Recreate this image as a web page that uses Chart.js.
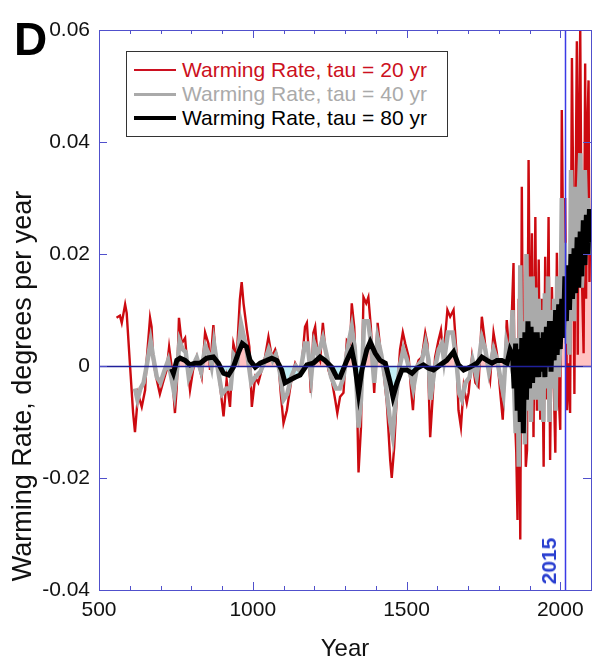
<!DOCTYPE html>
<html>
<head>
<meta charset="utf-8">
<script src="https://cdn.jsdelivr.net/npm/chart.js@4/dist/chart.umd.min.js"></script>
<style>
  body { margin: 0; background: #fff; }
  #wrap { position: relative; width: 593px; height: 662px; font-family: "Liberation Sans", Arial, sans-serif; }
  #chart { position: absolute; left: 0; top: 0; }
  .lbl { position: absolute; white-space: nowrap; }
  #panel { left: 14px; top: 16px; font-size: 46px; font-weight: bold; line-height: 46px; color: #000; }
  #ytitle { left: 22px; top: 386px; font-size: 27px; line-height: 30px; color: #111; transform: translate(-50%, -50%) rotate(-90deg); }
  #xtitle { left: 345px; top: 648px; font-size: 24px; line-height: 28px; color: #111; transform: translate(-50%, -50%); }
  #mark { left: 549px; top: 561px; font-size: 21px; font-weight: bold; line-height: 22px; color: #2a3fd0; transform: translate(-50%, -50%) rotate(-90deg); }
  #legend { position: absolute; left: 126px; top: 51px; width: 320px; height: 84px; border: 1px solid #333; background: #fff; }
  .row { position: absolute; left: 0; height: 24px; width: 320px; font-size: 21px; line-height: 24px; }
  .row span.sw { position: absolute; left: 7px; width: 42px; top: 50%; }
  .row span.tx { position: absolute; left: 55px; top: 0; }
</style>
</head>
<body>
<div id="wrap">
  <canvas id="chart" width="593" height="662"></canvas>
  <div class="lbl" id="panel">D</div>
  <div class="lbl" id="ytitle">Warming Rate, degrees per year</div>
  <div class="lbl" id="xtitle">Year</div>
  <div class="lbl" id="mark">2015</div>
  <div id="legend">
    <div class="row" style="top:6px;color:#cc1020"><span class="sw" style="height:2px;margin-top:-1px;background:#cc1020"></span><span class="tx">Warming Rate, tau = 20 yr</span></div>
    <div class="row" style="top:30px;color:#aaaaaa"><span class="sw" style="height:3px;margin-top:-1px;background:#aaaaaa"></span><span class="tx">Warming Rate, tau = 40 yr</span></div>
    <div class="row" style="top:54px;color:#000"><span class="sw" style="height:4px;margin-top:-2px;background:#000"></span><span class="tx">Warming Rate, tau = 80 yr</span></div>
  </div>
</div>
<script>
// --- DATA ---
const xTicks = [500, 1000, 1500, 2000];
const yTicks = [-0.04, -0.02, 0, 0.02, 0.04, 0.06];
const yTickLabels = ['-0.04', '-0.02', '0', '0.02', '0.04', '0.06'];
const markYear = 2015;

// tau = 20 yr
const redYears = [
  557, 568, 574, 585, 590, 601, 611, 617, 627, 639,
  650, 655, 666, 671, 676, 688, 698, 708, 720, 728,
  736, 747, 753, 760, 769, 780, 786, 796, 806, 818,
  834, 845, 856, 861, 872, 877, 888, 905, 915, 926,
  937, 948, 958, 964, 970, 981, 989, 997, 1008, 1018,
  1029, 1040, 1051, 1062, 1073, 1083, 1091, 1100, 1111, 1116,
  1127, 1138, 1149, 1160, 1170, 1176, 1181, 1189, 1197, 1203,
  1210, 1219, 1228, 1235, 1246, 1257, 1268, 1275, 1284, 1295,
  1306, 1317, 1322, 1330, 1339, 1344, 1352, 1360, 1369, 1376,
  1384, 1395, 1406, 1414, 1425, 1436, 1447, 1452, 1460, 1469,
  1479, 1488, 1496, 1507, 1514, 1521, 1528, 1539, 1550, 1561,
  1568, 1577, 1586, 1593, 1604, 1612, 1620, 1633, 1642, 1653,
  1662, 1669, 1677, 1686, 1696, 1702, 1713, 1724, 1734, 1745,
  1753, 1762, 1772, 1783, 1794, 1805, 1813, 1821, 1826, 1837,
  1848, 1852, 1857, 1861, 1865, 1870, 1875, 1880, 1883, 1888,
  1892, 1897, 1903, 1908, 1913, 1919, 1924, 1930, 1935, 1940,
  1946, 1951, 1956, 1962, 1967, 1973, 1978, 1984, 1989, 1994,
  2000, 2005, 2011, 2016, 2022, 2027, 2032, 2038, 2043, 2046,
  2049, 2054, 2057, 2059, 2065, 2070, 2076, 2081, 2084, 2087,
  2092, 2095, 2098
];
const redRate = [
  0.0086, 0.0090, 0.0077, 0.0110, 0.0095, 0.0000, -0.0084, -0.0118, -0.0050, -0.0073,
  -0.0043, 0.0010, 0.0086, 0.0070, 0.0010, -0.0025, -0.0050, -0.0030, -0.0007, 0.0034,
  0.0000, -0.0084, -0.0037, 0.0086, 0.0040, 0.0050, 0.0010, -0.0043, -0.0007, 0.0016,
  -0.0020, 0.0060, 0.0040, -0.0007, 0.0073, 0.0034, -0.0007, -0.0090, -0.0025, -0.0073,
  0.0040, 0.0016, 0.0118, 0.0150, 0.0112, 0.0064, 0.0034, -0.0073, -0.0020, -0.0030,
  -0.0007, 0.0016, 0.0052, 0.0016, 0.0029, 0.0010, -0.0048, -0.0102, -0.0079, -0.0060,
  -0.0020, 0.0005, -0.0007, 0.0005, 0.0070, 0.0077, 0.0034, -0.0048, 0.0059, 0.0070,
  0.0023, 0.0010, 0.0077, 0.0034, -0.0007, -0.0025, -0.0060, -0.0084, -0.0055, -0.0048,
  0.0046, 0.0040, 0.0112, 0.0070, -0.0060, -0.0190, -0.0109, 0.0123, 0.0112, 0.0123,
  0.0070, -0.0048, 0.0077, 0.0034, -0.0007, -0.0066, -0.0168, -0.0200, -0.0145, -0.0048,
  0.0029, 0.0060, 0.0040, 0.0016, -0.0037, -0.0079, -0.0013, 0.0010, 0.0016, 0.0059,
  0.0040, -0.0127, -0.0048, 0.0016, 0.0046, 0.0064, 0.0016, 0.0100, 0.0088, 0.0100,
  0.0029, -0.0079, -0.0109, -0.0037, -0.0066, -0.0048, 0.0016, -0.0030, -0.0037, 0.0088,
  0.0052, 0.0005, -0.0025, 0.0059, 0.0023, -0.0048, -0.0096, 0.0010, 0.0082, 0.0000,
  0.0184, -0.0080, -0.0155, -0.0275, 0.0120, -0.0310, 0.0320, -0.0100, 0.0070, -0.0180,
  -0.0150, 0.0368, -0.0060, 0.0237, -0.0127, 0.0266, -0.0080, 0.0190, -0.0096, 0.0120,
  -0.0180, 0.0195, -0.0060, 0.0266, -0.0168, 0.0141, -0.0013, -0.0155, 0.0202, -0.0040,
  -0.0114, 0.0457, 0.0123, 0.0300, -0.0079, 0.0005, -0.0084, 0.0550, 0.0260, -0.0050,
  0.0237, 0.0580, 0.0020, 0.0345, 0.0600, 0.0170, 0.0023, 0.0540, 0.0120, 0.0400,
  0.0510, 0.0150, 0.0260
];

// tau = 40 yr
const grayYears = [
  617, 625, 635, 645, 655, 668, 675, 688, 700, 712,
  725, 735, 745, 755, 762, 772, 782, 792, 805, 818,
  832, 846, 858, 866, 874, 885, 900, 915, 928, 938,
  950, 962, 968, 980, 995, 1008, 1025, 1040, 1052, 1065,
  1075, 1088, 1100, 1112, 1125, 1140, 1155, 1170, 1178, 1190,
  1200, 1212, 1228, 1240, 1255, 1270, 1283, 1295, 1308, 1322,
  1332, 1344, 1352, 1362, 1375, 1385, 1395, 1406, 1418, 1430,
  1447, 1455, 1465, 1478, 1490, 1502, 1515, 1522, 1535, 1550,
  1562, 1572, 1578, 1590, 1605, 1615, 1622, 1635, 1650, 1662,
  1672, 1680, 1692, 1705, 1715, 1728, 1745, 1756, 1768, 1783,
  1795, 1808, 1815, 1825, 1837, 1845, 1850, 1855, 1860, 1865,
  1870, 1875, 1880, 1885, 1890, 1895, 1900, 1905, 1910, 1915,
  1920, 1925, 1930, 1935, 1940, 1945, 1950, 1955, 1960, 1965,
  1970, 1975, 1980, 1985, 1990, 1995, 2000, 2005, 2010, 2015,
  2020, 2025, 2030, 2035, 2040, 2045, 2050, 2055, 2060, 2065,
  2070, 2075, 2080, 2085, 2090, 2095, 2100
];
const grayRate = [
  -0.0040, -0.0060, -0.0040, -0.0030, 0.0000, 0.0045, 0.0020, -0.0020, -0.0030, -0.0010,
  0.0010, -0.0020, -0.0050, 0.0000, 0.0045, 0.0030, 0.0025, -0.0020, 0.0000, 0.0015,
  -0.0010, 0.0035, 0.0020, 0.0000, 0.0040, 0.0000, -0.0050, -0.0040, -0.0040, 0.0020,
  0.0010, 0.0075, 0.0060, 0.0030, -0.0030, -0.0020, -0.0010, 0.0010, 0.0030, 0.0010,
  0.0020, -0.0010, -0.0060, -0.0050, -0.0020, 0.0000, -0.0010, 0.0040, 0.0040, -0.0020,
  0.0040, 0.0020, 0.0050, 0.0020, -0.0020, -0.0040, -0.0040, -0.0020, 0.0030, 0.0070,
  0.0030, -0.0110, -0.0060, 0.0080, 0.0080, 0.0040, -0.0030, 0.0050, 0.0020, -0.0020,
  -0.0100, -0.0125, -0.0060, 0.0000, 0.0030, 0.0010, -0.0020, -0.0040, 0.0000, 0.0010,
  0.0040, 0.0010, -0.0060, -0.0010, 0.0030, 0.0040, 0.0010, 0.0060, 0.0060, 0.0010,
  -0.0050, -0.0060, -0.0030, -0.0020, 0.0010, -0.0020, 0.0050, 0.0030, -0.0010, 0.0030,
  0.0010, -0.0030, -0.0050, 0.0040, 0.0010, 0.0100, -0.0040, -0.0120, 0.0050, -0.0180,
  0.0180, -0.0120, 0.0080, -0.0140, 0.0200, -0.0080, 0.0160, -0.0100, 0.0160, -0.0060,
  0.0140, -0.0060, 0.0120, -0.0080, 0.0100, -0.0100, 0.0130, -0.0040, 0.0160, -0.0100,
  0.0100, -0.0040, 0.0120, -0.0080, 0.0160, -0.0020, 0.0040, 0.0300, 0.0080, 0.0220,
  0.0040, 0.0120, 0.0020, 0.0350, 0.0180, 0.0080, 0.0320, 0.0160, 0.0300, 0.0380,
  0.0140, 0.0200, 0.0350, 0.0250, 0.0300, 0.0200, 0.0280
];

// tau = 80 yr
const blackYears = [
  736, 742, 753, 764, 780, 796, 812, 829, 850, 872,
  888, 905, 921, 937, 953, 966, 980, 991, 1008, 1024,
  1046, 1062, 1078, 1094, 1105, 1121, 1138, 1154, 1176, 1197,
  1219, 1235, 1257, 1273, 1284, 1306, 1322, 1333, 1344, 1355,
  1371, 1382, 1398, 1414, 1431, 1447, 1456, 1469, 1485, 1501,
  1518, 1534, 1555, 1572, 1588, 1610, 1631, 1653, 1669, 1686,
  1707, 1729, 1745, 1762, 1778, 1794, 1810, 1827, 1837, 1845,
  1850, 1855, 1860, 1865, 1870, 1875, 1880, 1885, 1890, 1895,
  1900, 1905, 1910, 1915, 1920, 1925, 1930, 1935, 1940, 1945,
  1950, 1955, 1960, 1965, 1970, 1975, 1980, 1985, 1990, 1995,
  2000, 2005, 2010, 2015, 2020, 2025, 2030, 2035, 2040, 2045,
  2050, 2055, 2060, 2065, 2070, 2075, 2080, 2085, 2090, 2095, 2100
];
const blackRate = [
  -0.0005, -0.0013, 0.0010, 0.0014, 0.0010, 0.0002, 0.0005, 0.0005, 0.0014, 0.0016,
  0.0005, -0.0013, -0.0016, -0.0002, 0.0023, 0.0040, 0.0034, 0.0010, -0.0002, 0.0005,
  0.0010, 0.0014, 0.0010, -0.0007, -0.0030, -0.0025, -0.0020, -0.0016, 0.0002, 0.0005,
  0.0016, 0.0010, -0.0002, -0.0020, -0.0020, 0.0010, 0.0029, -0.0002, -0.0048, -0.0007,
  0.0029, 0.0043, 0.0023, 0.0010, 0.0005, -0.0030, -0.0055, -0.0030, -0.0007, -0.0007,
  -0.0013, -0.0004, 0.0002, -0.0004, -0.0007, 0.0002, 0.0010, 0.0025, 0.0002, -0.0007,
  -0.0002, 0.0005, 0.0016, 0.0010, 0.0005, 0.0010, 0.0010, 0.0005, 0.0029, 0.0020,
  -0.0040, 0.0040, -0.0080, 0.0030, -0.0100, 0.0050, -0.0120, 0.0060, -0.0060, 0.0080,
  -0.0040, 0.0070, -0.0030, 0.0060, -0.0020, 0.0060, -0.0020, 0.0050, -0.0010, 0.0060,
  -0.0020, 0.0070, 0.0000, 0.0080, -0.0010, 0.0080, 0.0010, 0.0100, 0.0020, 0.0110,
  0.0030, 0.0120, 0.0050, 0.0160, 0.0080, 0.0180, 0.0100, 0.0200, 0.0120, 0.0210,
  0.0130, 0.0230, 0.0140, 0.0240, 0.0160, 0.0260, 0.0180, 0.0270, 0.0200, 0.0280, 0.0220
];

const pts = (xs, ys) => xs.map((x, i) => ({ x: x, y: ys[i] }));

// --- FRAME, TICKS, REFERENCE LINES ---
const framePlugin = {
  id: 'frame',
  afterDatasetsDraw(chart) {
    const { ctx, chartArea: a, scales: { x, y } } = chart;
    const seg = (x1, y1, x2, y2) => { ctx.beginPath(); ctx.moveTo(x1, y1); ctx.lineTo(x2, y2); ctx.stroke(); };
    ctx.save();
    // zero line
    const y0 = Math.round(y.getPixelForValue(0)) + 0.5;
    ctx.strokeStyle = '#20209a'; ctx.lineWidth = 1.5;
    seg(a.left, y0, a.right, y0);
    // 2015 marker
    const xm = Math.round(x.getPixelForValue(markYear)) + 0.5;
    ctx.strokeStyle = '#3a3ae6'; ctx.lineWidth = 1.5;
    seg(xm, a.top, xm, a.bottom);
    // box
    ctx.strokeStyle = '#5050cc'; ctx.lineWidth = 1;
    ctx.strokeRect(Math.round(a.left) + 0.5, Math.round(a.top) + 0.5, Math.round(a.right - a.left), Math.round(a.bottom - a.top));
    // x ticks, inward, top and bottom
    for (let yr = 600; yr < 2100; yr += 100) {
      const px = Math.round(x.getPixelForValue(yr)) + 0.5;
      const len = yr % 500 === 0 ? 8 : 4;
      seg(px, a.bottom, px, a.bottom - len);
      seg(px, a.top, px, a.top + len);
    }
    // y ticks, inward, left and right
    yTicks.forEach(v => {
      const py = Math.round(y.getPixelForValue(v)) + 0.5;
      seg(a.left, py, a.left + 8, py);
      seg(a.right, py, a.right - 8, py);
    });
    ctx.restore();
  }
};

// --- CHART ---
new Chart(document.getElementById('chart'), {
  type: 'line',
  data: {
    datasets: [
      { label: 'fill', data: pts(blackYears, blackRate), borderWidth: 0, pointRadius: 0,
        fill: { target: 'origin', above: '#ffc2c2', below: '#c2f0f6' }, order: 4 },
      { label: 'Warming Rate, tau = 20 yr', data: pts(redYears, redRate), borderColor: '#cc0a10',
        borderWidth: 2.4, pointRadius: 0, fill: false, order: 3 },
      { label: 'Warming Rate, tau = 40 yr', data: pts(grayYears, grayRate), borderColor: '#aaaaaa',
        borderWidth: 4.5, pointRadius: 0, fill: false, order: 2 },
      { label: 'Warming Rate, tau = 80 yr', data: pts(blackYears, blackRate), borderColor: '#000000',
        borderWidth: 5, pointRadius: 0, fill: false, order: 1 }
    ]
  },
  options: {
    responsive: false,
    animation: false,
    devicePixelRatio: 1,
    layout: { padding: { top: 30, right: 2, left: 0, bottom: 0 } },
    plugins: { legend: { display: false }, tooltip: { enabled: false } },
    scales: {
      x: {
        type: 'linear', min: 500, max: 2100,
        grid: { display: false, drawTicks: false }, border: { display: false },
        afterBuildTicks: s => { s.ticks = xTicks.map(v => ({ value: v })); },
        afterFit: s => { s.height = 72; },
        ticks: { padding: 8, color: '#111', font: { family: 'Liberation Sans', size: 21 }, maxRotation: 0,
          callback: v => String(v) }
      },
      y: {
        min: -0.04, max: 0.06,
        grid: { display: false, drawTicks: false }, border: { display: false },
        afterBuildTicks: s => { s.ticks = yTicks.map(v => ({ value: v })); },
        afterFit: s => { s.width = 99; },
        ticks: { padding: 9, color: '#111', font: { family: 'Liberation Sans', size: 21 },
          callback: v => yTickLabels[yTicks.findIndex(t => Math.abs(t - v) < 1e-9)] }
      }
    }
  },
  plugins: [framePlugin]
});
</script>
</body>
</html>
